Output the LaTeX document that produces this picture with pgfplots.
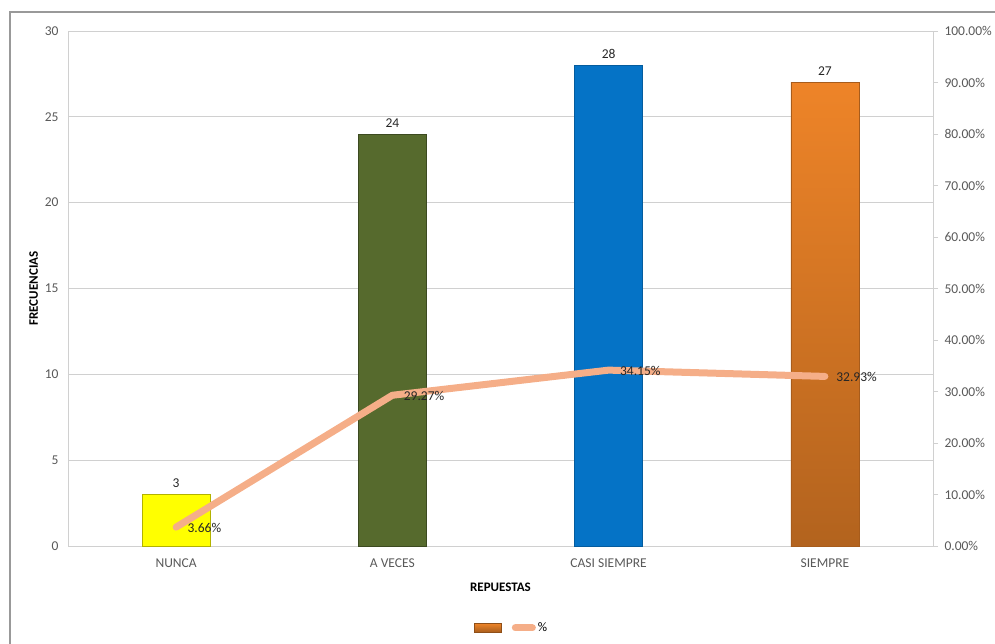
\documentclass[border=0pt]{standalone}
\usepackage{pgfplots}
\pgfplotsset{compat=1.18}
\pgfplotsset{/pgf/number format/assume math mode=true}
\usepackage{fontspec}
\setmainfont{Carlito}
\definecolor{tickc}{HTML}{595959}
\definecolor{gridc}{HTML}{D0D0D0}
\definecolor{c1}{HTML}{FFFF00}
\definecolor{c2}{HTML}{566A2D}
\definecolor{c3}{HTML}{0573C6}
\definecolor{c4}{HTML}{EE8428}
\definecolor{linec}{HTML}{F5AE88}
\begin{document}
\begin{tikzpicture}[x=1pt,y=1pt]
\useasboundingbox (0,0) rectangle (995,643);
\draw[gray!80, line width=1.2pt] (10,-5) -- (10,631) -- (1000,631);
\begin{axis}[
  at={(68pt,97pt)}, anchor=south west, scale only axis,
  width=865pt, height=515pt,
  xmin=-0.5, xmax=3.5, ymin=0, ymax=30,
  ytick={0,5,...,30},
  xtick={0,1,2,3},
  xticklabels={NUNCA,A VECES,CASI SIEMPRE,SIEMPRE},
  axis line style={gridc, line width=0.9pt},
  ymajorgrids, grid style={gridc, line width=0.9pt},
  major tick style={draw=none},
  tick label style={font=\fontsize{13.5}{16}\selectfont, text=tickc},
  yticklabel style={xshift=-6pt},
  xticklabel style={yshift=-5pt},
  xlabel={\textbf{REPUESTAS}},
  ylabel={\textbf{FRECUENCIAS}},
  label style={font=\fontsize{13}{15}\selectfont, text=black},
  xlabel style={yshift=-8pt},
  ylabel style={yshift=0pt},
  ybar, bar width=68pt, bar shift=0pt,
  nodes near coords,
  every node near coord/.append style={font=\fontsize{13.5}{16}\selectfont, text=black!85, yshift=3pt},
]
\addplot[fill=c1, draw=c1!70!black, line width=0.6pt] coordinates {(0,3)};
\addplot[fill=c2, draw=c2!70!black, line width=0.6pt] coordinates {(1,24)};
\addplot[fill=c3, draw=c3!80!black, line width=0.6pt] coordinates {(2,28)};
\addplot[top color=c4, bottom color=c4!75!black, draw=c4!70!black, line width=0.6pt] coordinates {(3,27)};
\end{axis}
\begin{axis}[
  at={(68pt,97pt)}, anchor=south west, scale only axis,
  width=865pt, height=515pt,
  xmin=-0.5, xmax=3.5, ymin=0, ymax=100,
  axis y line*=right, axis x line=none,
  axis line style={gridc, line width=0.9pt},
  ytick={0,10,...,100},
  yticklabel={\pgfmathprintnumber[fixed,fixed zerofill,precision=2]{\tick}\%},
  tick label style={font=\fontsize{13.5}{16}\selectfont, text=tickc},
  tick align=outside, major tick length=5pt,
  major tick style={gridc, line width=0.9pt},
  yticklabel style={xshift=3pt},
  legend style={at={(0.513,-0.159)}, anchor=center, draw=none, fill=none,
    legend columns=2, font=\fontsize{13}{15}\selectfont,
    /tikz/every even column/.append style={column sep=6pt}},
]
\addlegendimage{legend image code/.code={
  \draw[top color=c4, bottom color=c4!70!black, draw=c4!60!black, line width=0.5pt] (0pt,-4.5pt) rectangle (27pt,4.5pt);}}
\addlegendentry{}
\addplot[color=linec, line width=7pt, line cap=round, line join=round,
  nodes near coords, point meta=explicit symbolic,
  every node near coord/.style={anchor=west, xshift=7pt, yshift=-1pt, font=\fontsize{13.5}{16}\selectfont, text=black!85, inner sep=1pt}]
  coordinates {(0,3.66)[3.66\%] (1,29.27)[29.27\%] (2,34.15)[34.15\%] (3,32.93)[32.93\%]};
\addlegendentry{\%}
\end{axis}
\end{tikzpicture}
\end{document}
